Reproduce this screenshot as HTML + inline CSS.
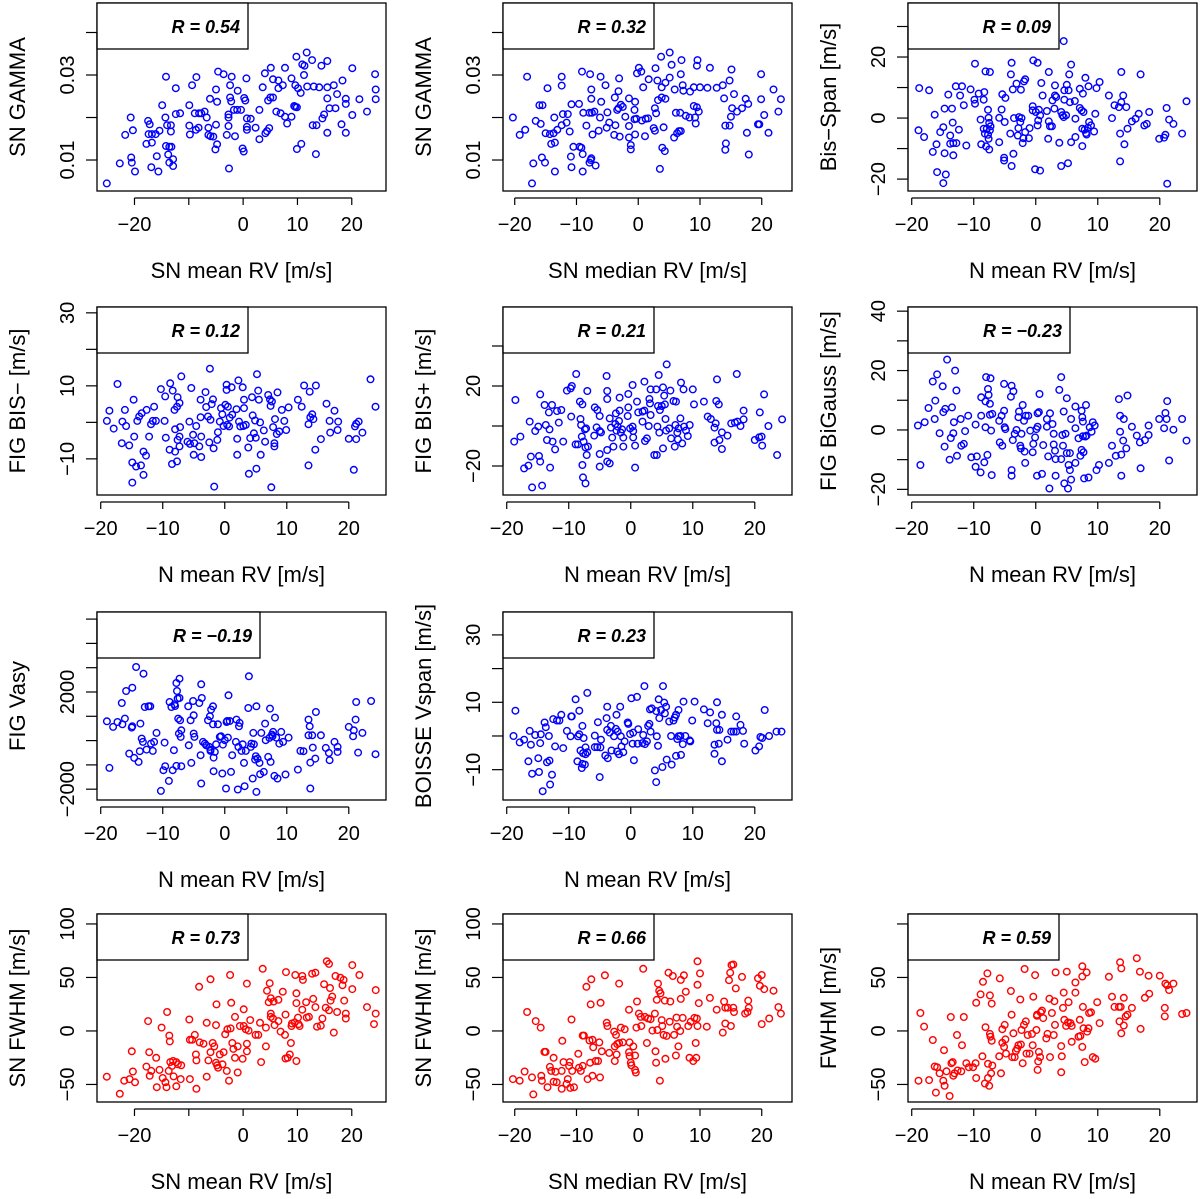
<!DOCTYPE html>
<html><head><meta charset="utf-8"><style>
html,body{margin:0;padding:0;background:#fff;}
svg{display:block;font-family:"Liberation Sans",Arial,sans-serif;}
</style></head><body>
<svg id="fig" width="1200" height="1199" viewBox="0 0 1200 1199" xmlns="http://www.w3.org/2000/svg"></svg>
<script>
// ---------- data ----------
const gammaMeanPts = [[-25.1,0.0045],[-22.7,0.0092],[-20.6,0.0106],[-20.5,0.0094],[-19.9,0.0073],[-21.7,0.0159],[-20.3,0.017],[-20.7,0.020],[-17.8,0.0138],[-17.5,0.0192],[-17.2,0.0184],[-17.4,0.0161],[-16.8,0.0141],[-16.8,0.0161],[-16.1,0.0161],[-15.4,0.0169],[-15.9,0.0109],[-16.9,0.0083],[-15.6,0.0073],[-14.9,0.0229],[-14.3,0.0200],[-14.0,0.0182],[-13.3,0.0182],[-13.3,0.0167],[-14.2,0.0133],[-13.6,0.0131],[-13.2,0.0131],[-13.8,0.0113],[-12.9,0.0102],[-13.6,0.0094],[-12.9,0.0086],[-14.2,0.0296],[-12.4,0.0269],[-12.4,0.0208],[-11.6,0.021],[-9.9,0.0229],[-9.9,0.0181],[-9.8,0.0160],[-8.9,0.0210],[-8.7,0.0171],[-8.2,0.0176],[-8.1,0.021],[-7.7,0.021],[-7.1,0.0214],[-6.7,0.020],[-6.4,0.0176],[-6.4,0.0159],[-6.0,0.0156],[-5.5,0.0155],[-4.8,0.0137],[-5.1,0.0125],[-5.0,0.0183],[-6.1,0.0244],[-4.8,0.0237],[-9.4,0.0276],[-8.6,0.0295],[-5.0,0.0266],[-4.6,0.0308],[-3.6,0.0302],[-2.1,0.0296],[-2.4,0.0276],[-1.0,0.0263],[-2.4,0.0247],[-2.2,0.0238],[-1.7,0.0218],[-2.7,0.0207],[-2.7,0.0180],[-3.0,0.0159],[-1.5,0.0156],[-2.7,0.020],[-1.1,0.0218],[-0.4,0.0218],[0.2,0.0246],[0.4,0.024],[0.6,0.0292],[0.7,0.0198],[1.4,0.0197],[0.7,0.0178],[0.7,0.0171],[-0.1,0.0127],[0.1,0.012],[-2.6,0.0080],[2.3,0.0176],[3.0,0.0218],[3.6,0.0271],[3.0,0.0149],[4.1,0.0163],[4.4,0.0168],[4.8,0.0175],[4.6,0.024],[5.0,0.0247],[5.5,0.0247],[5.1,0.0317],[4.0,0.0304],[5.5,0.029],[6.5,0.0287],[7.3,0.0276],[6.5,0.0269],[6.1,0.0214],[6.9,0.021],[7.7,0.0202],[8.1,0.0186],[8.9,0.0202],[7.7,0.0317],[8.9,0.0292],[9.8,0.0343],[9.6,0.0276],[10.1,0.0269],[10.6,0.0258],[9.6,0.0225],[9.9,0.0224],[10.9,0.0325],[11.3,0.0322],[11.2,0.030],[11.7,0.0353],[12.7,0.0335],[11.8,0.0273],[13.0,0.0273],[14.0,0.0271],[14.4,0.0322],[15.5,0.0333],[15.5,0.0271],[15.5,0.0245],[15.9,0.0222],[14.9,0.0207],[14.6,0.0198],[13.5,0.0182],[12.8,0.0182],[15.5,0.0164],[16.7,0.0276],[17.3,0.0255],[17.0,0.0222],[18.3,0.0287],[18.9,0.0244],[18.9,0.0232],[18.1,0.0184],[18.9,0.0164],[20.1,0.0316],[20.1,0.0206],[21.4,0.0243],[22.8,0.0214],[24.3,0.0302],[24.4,0.0266],[24.4,0.0243],[9.9,0.0126],[10.7,0.0138],[13.4,0.0114],[9.4,0.0227]];
const gammaMedianPts = [[-20.3,0.020],[-19.2,0.0159],[-18.3,0.0171],[-18.0,0.0296],[-17.0,0.0092],[-17.2,0.0045],[-16.6,0.0192],[-15.8,0.0185],[-16.0,0.0229],[-15.5,0.0229],[-15.6,0.0106],[-15.1,0.0094],[-14.7,0.0269],[-15.0,0.0163],[-14.3,0.0161],[-14.1,0.0138],[-13.7,0.0163],[-13.5,0.0141],[-13.6,0.020],[-13.5,0.0073],[-13.1,0.0171],[-12.4,0.0182],[-12.4,0.0296],[-12.4,0.0275],[-12.2,0.0208],[-11.6,0.0188],[-11.4,0.0208],[-11.1,0.0167],[-10.8,0.0231],[-10.5,0.0131],[-10.9,0.0108],[-10.8,0.0083],[-9.6,0.0232],[-9.5,0.0131],[-9.2,0.0129],[-9.0,0.0114],[-9.0,0.0073],[-9.1,0.0308],[-8.9,0.0211],[-8.4,0.0181],[-7.9,0.0211],[-7.8,0.0302],[-7.6,0.0266],[-7.6,0.0244],[-7.4,0.016],[-7.5,0.0211],[-7.1,0.0214],[-7.9,0.0094],[-7.6,0.0104],[-7.7,0.010],[-6.9,0.0087],[-6.2,0.020],[-6.4,0.0169],[-6.0,0.0237],[-6.1,0.0296],[-5.3,0.0276],[-5.0,0.0212],[-4.7,0.0188],[-5.1,0.0176],[-3.9,0.0159],[-3.7,0.0182],[-3.8,0.0247],[-3.2,0.0262],[-3.1,0.0292],[-3.2,0.0222],[-3.4,0.0218],[-2.8,0.023],[-2.5,0.0225],[-2.1,0.0202],[-3.0,0.0155],[-1.5,0.0245],[-1.5,0.018],[-1.5,0.0153],[-1.2,0.0135],[-1.2,0.0125],[-0.5,0.0237],[-0.6,0.0218],[-0.6,0.0196],[-0.3,0.0197],[-0.5,0.016],[-0.2,0.0304],[0.1,0.0317],[0.5,0.0308],[0.8,0.0271],[0.6,0.0193],[1.2,0.0197],[1.6,0.0198],[1.1,0.0156],[1.7,0.029],[2.5,0.0175],[2.7,0.0169],[2.7,0.0222],[2.9,0.021],[2.8,0.0316],[3.1,0.0287],[3.2,0.0241],[3.5,0.0079],[3.7,0.0343],[3.8,0.0247],[3.8,0.0271],[4.1,0.0177],[3.9,0.0129],[4.3,0.0121],[4.4,0.0282],[4.4,0.0244],[5.1,0.0294],[5.1,0.0353],[5.4,0.0324],[5.9,0.0266],[6.1,0.0211],[5.8,0.0153],[6.3,0.0163],[6.6,0.0168],[6.9,0.0168],[6.8,0.0211],[7.0,0.0335],[6.9,0.0302],[7.2,0.0276],[7.3,0.0263],[7.7,0.0204],[8.4,0.0261],[8.3,0.020],[9.2,0.020],[9.0,0.0227],[9.5,0.0224],[9.8,0.0214],[9.3,0.0186],[9.0,0.0271],[9.6,0.0335],[9.5,0.0322],[10.0,0.0271],[11.2,0.027],[11.6,0.0317],[12.7,0.027],[13.7,0.0276],[13.9,0.0245],[14.1,0.0181],[14.2,0.0139],[14.1,0.0124],[14.8,0.0287],[14.8,0.0181],[15.0,0.0202],[15.2,0.0222],[15.1,0.0313],[15.5,0.0255],[16.0,0.0214],[16.8,0.0222],[17.4,0.0244],[17.8,0.0232],[17.6,0.0164],[17.9,0.0113],[19.4,0.0184],[19.6,0.0184],[19.9,0.0243],[19.9,0.0302],[20.4,0.0206],[21.1,0.0164],[21.9,0.0266],[22.7,0.0214],[23.1,0.0243]];
const bisSpanPts = [[-18.9,-4.0],[-18.8,9.8],[-18.0,-6.2],[-17.2,9.1],[-16.3,1.1],[-16.6,-11.1],[-16.0,-8.6],[-15.9,-17.7],[-15.4,-4.6],[-14.9,-3.0],[-14.7,3.1],[-14.7,-11.5],[-14.9,-21.3],[-14.5,-18.5],[-14.1,7.7],[-13.8,-5.7],[-13.8,-8.4],[-13.5,3.1],[-13.4,-1.5],[-13.3,-8.2],[-13.3,-12.2],[-12.9,10.4],[-12.8,-8.2],[-12.4,-3.8],[-12.2,7.4],[-11.9,10.4],[-11.6,4.2],[-11.2,-9.0],[-10.5,9.4],[-9.9,6.0],[-9.8,4.7],[-9.8,17.8],[-9.2,8.0],[-8.8,-8.6],[-8.9,-0.5],[-8.4,6.0],[-8.3,8.5],[-8.4,-3.5],[-8.2,-5.1],[-8.1,15.3],[-8.0,-9.3],[-7.9,-3.5],[-7.7,-5.5],[-7.7,2.7],[-7.6,0.1],[-7.5,-1.6],[-7.4,15.1],[-7.5,-10.3],[-7.6,-6.8],[-7.3,-2.7],[-7.4,-4.0],[-5.9,0.1],[-5.9,-7.9],[-5.5,2.8],[-5.4,7.8],[-5.1,-13.0],[-5.1,-13.9],[-4.9,6.6],[-5.0,-1.3],[-4.1,-5.1],[-3.9,-15.7],[-4.0,14.3],[-3.9,18.1],[-3.6,-11.7],[-3.5,0],[-3.7,9.4],[-3.1,11.3],[-2.9,-5.7],[-2.8,-3.3],[-2.7,0.3],[-2.5,-1.3],[-2.4,9.3],[-2.3,0],[-2.1,-8.2],[-2.0,-6.6],[-1.9,12.0],[-1.7,12.7],[-1.7,-4.6],[-1.1,-6.6],[-1.0,-3.3],[-0.5,2.5],[-0.5,3.9],[-0.4,18.9],[-0.1,-16.8],[0,2.0],[0.3,18.1],[0.3,-2.4],[0.4,-0.8],[0.5,2.7],[0.7,-17.2],[0.7,0.9],[0.9,11.5],[1.1,7.4],[1.8,2.3],[2.0,-6.8],[2.1,15.1],[2.1,-1.1],[2.3,-2.7],[2.6,-2.7],[2.7,5.8],[3.0,3.1],[3.1,7.4],[3.1,10.7],[3.3,6.9],[3.8,-8.1],[4.1,-15.7],[4.1,2.0],[4.3,0.9],[4.5,0.3],[4.5,25.2],[4.6,9.1],[4.6,6.0],[4.9,0.9],[5.0,10.9],[5.2,-14.8],[5.4,14.3],[5.5,5.2],[5.3,9.1],[5.7,-7.9],[5.7,17.5],[6.3,5.6],[6.4,-6.2],[6.4,-0.2],[7.1,9.6],[7.1,3.3],[7.4,2.5],[7.5,-9.2],[7.6,8.0],[7.5,-3.5],[7.7,2.0],[8.0,13.2],[7.9,-3.8],[8.1,-4.9],[8.2,-5.4],[8.4,-3.2],[8.5,10.4],[8.6,-1.3],[8.9,-2.4],[9.4,-4.4],[9.6,1.4],[9.8,9.8],[10.3,11.8],[11.8,7.4],[12.3,0],[12.7,4.2],[13.4,3.6],[13.6,-14.2],[13.6,-5.1],[13.8,15.1],[13.8,5.2],[14.1,7.4],[14.3,-8.6],[14.6,3.6],[14.8,-3.5],[15.5,-1.1],[16.1,-0.2],[16.6,1.4],[16.9,14.3],[17.5,-2.4],[17.9,-1.9],[18.3,2.0],[19.9,-6.8],[20.7,-6.4],[20.9,-5.5],[21.1,3.3],[21.2,-21.5],[21.5,-0.5],[22.2,-1.9],[23.6,-5.1],[24.3,5.5]];
const bisMinusPts = [[-19.0,0.4],[-18.6,3.2],[-17.9,-1.7],[-17.3,10.5],[-16.5,0.2],[-16.1,3.4],[-15.9,-1.0],[-16.6,-5.7],[-15.4,-6.3],[-14.9,-11.0],[-14.7,6.2],[-14.6,-3.9],[-14.3,-12.1],[-13.5,-11.8],[-14.9,-16.5],[-13.1,-14.4],[-14.1,0.4],[-13.8,1.6],[-13.4,2.5],[-13.1,-8.0],[-12.7,-9.1],[-12.6,3.4],[-12.2,-3.9],[-11.9,-0.5],[-11.6,0.4],[-11.4,4.3],[-11.1,0.4],[-9.7,0.4],[-10.3,9.1],[-9.6,7.1],[-9.5,-4.2],[-8.9,-7.5],[-8.8,10.7],[-8.5,-11.4],[-8.4,8.7],[-8.1,3.4],[-8.0,-1.9],[-8.0,-8.0],[-7.7,4.3],[-7.6,6.9],[-7.7,-10.7],[-7.6,-4.8],[-7.3,5.3],[-7.2,-1.3],[-7.3,-6.6],[-7.0,12.6],[-7.3,-3.9],[-5.7,0.2],[-6.0,-5.3],[-5.6,-5.9],[-5.4,9.4],[-5.1,-3.4],[-5.0,-8.9],[-4.9,-5.7],[-4.6,-1.0],[-4.1,-6.6],[-3.9,6.2],[-3.8,-3.9],[-3.9,1.4],[-3.8,-9.5],[-3.1,8.3],[-3.0,4.2],[-2.7,1.6],[-2.5,-5.5],[-2.4,14.7],[-2.3,0.7],[-2.1,5.0],[-1.9,6.3],[-1.8,-7.1],[-1.7,-17.6],[-1.2,-4.8],[-1.1,-2.7],[-0.8,0.2],[-0.6,3.9],[-0.4,2.2],[-0.2,-1.0],[0.1,4.8],[0.3,10.3],[0.3,8.9],[0.4,-0.7],[0.5,4.3],[0.7,-1.1],[1.1,9.6],[0.8,1.3],[1.2,2.1],[1.9,3.6],[2.0,-8.9],[2.0,-4.5],[2.2,11.5],[2.3,0.2],[2.5,-1.1],[2.9,9.6],[3.0,-1.0],[3.1,3.9],[3.1,6.2],[3.4,-0.7],[3.8,-6.9],[3.9,-14.1],[4.1,-4.3],[4.4,6.9],[4.5,1.9],[4.7,-3.0],[4.9,0.5],[5.0,-4.2],[5.1,-12.7],[5.2,13.2],[5.4,8.7],[5.5,6.2],[5.7,0],[5.8,-8.9],[6.3,-2.2],[6.5,-5.3],[7.0,7.5],[7.3,6.3],[7.4,4.5],[7.6,5.7],[7.5,-17.8],[7.8,-1.3],[8.0,-5.7],[8.0,-6.6],[8.1,0.9],[8.4,-3.2],[8.5,8.2],[8.8,-2.5],[9.2,3.4],[9.6,0.4],[9.9,-2.1],[10.3,4.1],[11.8,6.2],[12.4,4.3],[12.8,10.1],[13.5,-11.8],[13.7,8.4],[13.5,-0.5],[13.8,1.4],[14.1,2.2],[14.3,0.9],[14.7,10.1],[14.6,-7.5],[15.5,-4.6],[16.4,5.1],[17.0,-2.8],[16.9,0.4],[17.7,3.2],[18.2,-2.1],[18.3,0.2],[20.0,-4.5],[20.8,-13.0],[21.0,-1.1],[21.2,-0.4],[21.6,0.2],[21.2,-4.6],[22.2,-2.8],[23.5,11.8],[24.3,4.3]];
const bisPlusPts = [[-18.8,-7.8],[-18.6,13.0],[-17.8,-5.3],[-17.2,-21.2],[-16.3,2.2],[-16.5,-19.8],[-16.1,-15.3],[-15.9,-30.7],[-15.4,-2.5],[-14.9,-0.3],[-14.8,-15.0],[-14.6,15.8],[-14.6,-17.8],[-14.3,-29.8],[-13.9,10.5],[-13.7,0.5],[-13.5,-7.0],[-13.2,6.8],[-13.1,-1.7],[-13.0,-20.8],[-12.7,10.5],[-12.6,-7.8],[-12.2,-11.7],[-11.9,7.5],[-11.6,1.7],[-11.2,8.0],[-10.9,-7.8],[-10.3,17.7],[-9.7,18.8],[-9.5,20.0],[-9.6,4.7],[-8.8,26.0],[-8.9,-9.2],[-8.5,-9.2],[-8.2,12.2],[-8.1,3.5],[-8.0,0.5],[-7.9,-5.3],[-7.8,10.8],[-7.8,-19.5],[-7.7,-25.7],[-7.6,-7.8],[-7.4,-1.7],[-7.3,-28.7],[-7.2,-1.2],[-7.3,-10.7],[-7.1,-14.5],[-7.0,17.5],[-6.9,-10.3],[-5.9,-4.8],[-5.8,9.3],[-5.4,8.0],[-5.5,-0.7],[-5.0,5.0],[-5.0,-2.5],[-5.0,-14.0],[-5.0,-20.3],[-4.8,-3.2],[-3.9,25.0],[-3.8,17.5],[-3.8,13.5],[-3.8,-12.0],[-3.8,-17.8],[-3.4,-18.7],[-3.4,3.8],[-3.2,-0.8],[-3.0,-5.8],[-2.8,-10.3],[-2.5,1.0],[-2.4,6.3],[-2.3,-2.3],[-2.1,-0.3],[-1.8,14.2],[-1.9,2.5],[-1.8,7.7],[-1.6,-3.3],[-1.4,-1.7],[-1.2,-10.3],[-1.2,-5.8],[-0.5,5.0],[-0.4,9.3],[-0.4,16.0],[-0.1,-1.2],[0.3,-0.3],[0.4,-2.5],[0.3,20.5],[0.4,-5.7],[0.7,-9.8],[0.7,-20.8],[1.0,12.2],[1.2,6.8],[1.9,7.2],[1.9,2.2],[2.2,22.2],[2.3,-7.5],[2.6,-6.2],[2.2,7.7],[2.9,0],[3.0,13.5],[3.1,11.3],[3.2,18.3],[3.2,5.5],[3.8,-14.5],[4.1,18.3],[4.2,-14.5],[4.3,-0.3],[4.4,10.0],[4.5,25.5],[4.6,-3.3],[4.7,8.0],[5.0,10.0],[5.2,-11.2],[5.2,19.3],[5.4,15.2],[5.5,10.8],[5.6,3.5],[5.7,-2.3],[5.8,30.8],[6.2,-1.2],[6.4,17.7],[6.5,-6.2],[6.9,12.5],[7.1,-10.3],[7.2,0.5],[7.3,12.2],[7.5,-3.3],[7.6,-6.7],[7.7,-1.2],[8.0,3.8],[8.1,21.7],[8.3,-8.7],[8.5,18.3],[8.6,-0.3],[8.9,-2.3],[9.2,-5.0],[9.5,0.5],[10.0,18.3],[10.2,10.8],[11.8,12.2],[12.4,4.7],[12.9,3.5],[13.5,-0.8],[13.5,-8.3],[13.7,1.3],[13.8,12.5],[13.9,23.3],[14.2,10.8],[14.3,-7.0],[14.7,-11.5],[14.7,-3.2],[15.6,-4.8],[16.2,1.3],[16.8,1.7],[17.1,26.0],[17.2,2.2],[17.7,0],[18.2,7.7],[18.2,3.3],[20.0,-7.0],[20.7,-5.7],[20.8,6.8],[21.1,-5.3],[21.2,-9.8],[21.5,15.8],[22.2,0],[23.6,-14.5],[24.4,3.3]];
const biGaussPts = [[-19.0,1.5],[-18.6,-11.8],[-17.9,2.6],[-17.3,7.4],[-16.6,16.3],[-16.3,3.7],[-16.2,9.9],[-15.9,18.7],[-15.5,-1.1],[-15.0,14.7],[-14.7,-5.6],[-14.9,6.0],[-14.6,7.1],[-14.3,23.7],[-13.9,-10.0],[-13.7,-2.7],[-13.5,7.6],[-13.3,-1.1],[-13.2,2.6],[-13.0,20.0],[-12.8,13.3],[-12.7,-8.7],[-12.1,3.7],[-12.0,-5.3],[-11.6,-4.7],[-11.4,-0.4],[-10.9,4.8],[-10.4,-9.2],[-9.7,1.8],[-9.7,-12.4],[-9.5,-8.9],[-8.9,-14.3],[-8.8,11.0],[-8.8,4.8],[-8.3,-10.9],[-8.1,0.9],[-8.1,9.6],[-8.0,17.8],[-7.8,-8.4],[-7.7,13.8],[-7.6,11.8],[-7.4,8.8],[-7.4,5.1],[-7.3,17.4],[-7.2,-0.2],[-7.1,-15.2],[-7.0,5.4],[-5.9,3.1],[-5.8,-4.2],[-5.5,4.8],[-5.4,-5.3],[-5.1,15.5],[-5.1,6.5],[-5.0,0.9],[-4.9,0.3],[-3.9,14.9],[-3.9,-13.5],[-3.9,-15.4],[-3.6,13.0],[-4.0,11.2],[-3.7,-3.4],[-3.4,-1.3],[-3.1,0],[-2.8,4.3],[-2.7,6.2],[-2.5,-5.3],[-2.4,-6.2],[-2.3,-1.3],[-2.1,8.4],[-1.9,3.1],[-1.8,-7.3],[-1.7,-11.1],[-1.6,4.8],[-1.2,4.8],[-0.9,-0.2],[-0.5,-7.5],[-0.4,-4.7],[-0.1,-2.5],[0.1,0.3],[0.2,-15.4],[0.3,1.1],[0.3,5.6],[0.6,12.1],[0.5,6.0],[1.0,-14.8],[1.2,-5.1],[1.8,3.7],[1.8,1.1],[2.0,-8.9],[2.2,-19.7],[2.3,5.6],[2.7,2.0],[2.9,-1.3],[2.9,-4.9],[3.1,-7.0],[3.2,-15.4],[3.2,-9.8],[3.8,13.5],[4.1,17.8],[4.1,-9.8],[4.3,-1.7],[4.4,-5.3],[4.5,6.2],[4.8,-1.3],[4.6,-18.0],[5.0,10.7],[5.0,-7.8],[5.3,-11.8],[5.2,-19.7],[5.5,-7.8],[5.5,-13.5],[5.7,3.7],[5.7,-16.7],[6.4,7.9],[6.4,0.6],[6.4,-11.1],[6.9,-2.8],[7.2,-8.7],[7.4,6.5],[7.4,-6.7],[7.5,4.3],[7.6,2.8],[7.6,-2.1],[7.7,-7.5],[8.0,-2.2],[8.1,8.4],[8.2,-1.9],[7.8,-16.3],[8.5,-16.0],[8.7,0.9],[9.0,-0.6],[9.2,2.6],[9.5,1.5],[9.8,-13.5],[10.2,-11.8],[11.8,-11.1],[12.3,-5.3],[12.9,-8.7],[13.4,10.4],[13.6,4.8],[13.6,-0.6],[13.8,-15.4],[13.8,-8.3],[14.1,-3.6],[14.2,3.7],[14.6,-6.2],[14.8,11.6],[15.5,1.1],[16.3,-1.9],[16.8,-4.2],[16.9,-12.9],[17.6,-3.4],[18.2,1.5],[18.2,-1.7],[19.9,3.7],[20.7,0.6],[20.9,5.7],[21.1,3.7],[21.2,9.7],[21.5,-10.3],[22.2,0.1],[23.6,3.7],[24.3,-3.6]];
const vasyPts = [[-19.0,795],[-18.6,-1123],[-18.0,562],[-17.3,767],[-16.5,671],[-16.6,1548],[-16.1,904],[-15.9,2041],[-15.4,-534],[-15.0,534],[-14.9,589],[-14.9,2178],[-14.6,-712],[-14.3,3028],[-13.9,-877],[-13.7,-438],[-13.6,699],[-13.4,82],[-13.2,-55],[-13.1,2754],[-12.9,1384],[-12.6,-370],[-12.3,1411],[-12.0,1411],[-11.9,-123],[-11.6,-425],[-11.4,-55],[-11.0,315],[-10.3,-2069],[-9.9,-1219],[-9.7,-82],[-9.6,-1055],[-9.0,-1658],[-8.9,1589],[-8.6,1384],[-8.4,-1219],[-8.2,-397],[-8.1,1493],[-8.0,1425],[-7.8,2370],[-7.8,-1041],[-7.7,2041],[-7.6,1726],[-7.5,904],[-7.4,288],[-7.3,1754],[-7.3,2548],[-7.2,836],[-7.1,151],[-7.0,425],[-7.0,-1055],[-5.9,1411],[-5.8,-192],[-5.5,836],[-5.4,-918],[-5.1,1630],[-5.0,1041],[-5.0,288],[-4.9,151],[-4.1,1548],[-3.9,-603],[-3.8,2315],[-3.8,-1767],[-3.7,1754],[-3.5,-55],[-3.2,-123],[-3.0,-192],[-2.7,836],[-2.5,-260],[-2.4,1000],[-2.3,-370],[-2.3,-425],[-2.2,1274],[-1.9,1411],[-1.9,671],[-1.8,-699],[-1.8,-1260],[-1.6,-466],[-1.4,-151],[-1.1,671],[-0.8,151],[-0.6,178],[-0.4,-1356],[-0.3,-164],[0,14],[0.2,-1973],[0.3,767],[0.4,808],[0.5,123],[0.6,1863],[0.8,808],[1.0,-1288],[1.2,-603],[1.8,-55],[1.9,863],[2.1,-2014],[2.2,-260],[2.3,589],[2.4,726],[2.7,-425],[2.9,-151],[3.1,-918],[3.2,-1877],[3.4,-425],[3.8,1342],[3.9,2644],[4.2,-260],[4.3,-123],[4.5,-1562],[4.6,315],[4.7,-151],[4.9,-781],[5.0,-644],[5.1,1411],[5.1,-2110],[5.3,-740],[5.6,-918],[5.7,-1384],[5.9,315],[6.3,-1288],[6.5,699],[6.6,14],[7.0,-671],[7.2,110],[7.3,1315],[7.4,-877],[7.6,247],[7.7,178],[7.8,356],[8.0,-1452],[8.1,945],[8.3,123],[8.5,-1562],[8.8,-123],[9.1,356],[9.4,-55],[9.8,-1397],[10.3,123],[11.8,-1192],[12.2,-425],[12.7,-438],[13.5,219],[13.5,863],[13.7,589],[13.8,-1973],[13.8,-904],[14.1,219],[14.2,-288],[14.6,-740],[14.7,1178],[15.5,219],[16.3,-301],[16.8,-507],[16.9,-808],[17.7,-55],[18.2,-260],[18.2,-466],[20.0,562],[20.7,178],[20.8,425],[21.1,863],[21.2,1589],[21.5,-493],[22.2,315],[23.6,1630],[24.3,-562]];
const vspanPts = [[-18.9,0],[-18.6,7.5],[-17.9,-1.9],[-17.2,-1.1],[-16.5,-7.5],[-16.3,1.5],[-16.1,-2.6],[-15.9,-11.2],[-15.4,0.3],[-14.9,-6.6],[-14.8,-10.7],[-14.6,-2.1],[-14.5,0.5],[-14.2,-16.4],[-13.9,4.0],[-13.7,2.6],[-13.5,-7.8],[-13.2,0],[-13.1,-7.3],[-13.0,-14.4],[-12.7,-11.5],[-12.5,5.0],[-12.2,-3.1],[-11.9,4.6],[-11.5,4.6],[-11.2,6.3],[-10.9,-3.6],[-10.3,1.5],[-9.7,-0.1],[-9.6,5.8],[-9.5,5.8],[-8.9,10.9],[-8.6,-7.5],[-8.5,-0.1],[-8.3,0.5],[-8.3,7.5],[-8.1,-4.3],[-7.9,-9.5],[-7.8,3.0],[-7.8,-8.3],[-7.7,-5.1],[-7.6,-0.6],[-7.4,-8.5],[-7.3,-5.4],[-7.3,-3.4],[-7.0,12.8],[-7.0,-4.8],[-5.8,0.1],[-5.8,-3.3],[-5.4,-3.3],[-5.3,4.1],[-5.0,-12.2],[-4.9,-3.4],[-4.8,-1.1],[-4.1,-5.8],[-3.9,5.3],[-3.8,8.7],[-3.8,1.8],[-3.7,-6.6],[-3.4,1.0],[-3.2,3.0],[-3.1,-4.3],[-2.7,-0.1],[-2.4,2.1],[-2.3,6.3],[-2.2,-4.6],[-2.1,1.3],[-1.9,-5.4],[-1.7,8.7],[-1.6,-0.1],[-1.5,-3.1],[-1.2,-4.8],[-1.0,-1.6],[-0.5,4.0],[-0.4,3.6],[-0.1,0.6],[0.1,11.2],[0.3,-2.3],[0.4,1.0],[0.5,-7.2],[1.0,11.6],[1.1,-2.3],[1.2,2.0],[1.9,-2.1],[2.0,0.3],[2.2,14.8],[2.3,-2.4],[2.6,-1.6],[2.8,3.0],[3.0,3.6],[3.1,7.9],[3.4,8.2],[3.2,1.3],[3.9,-10.2],[4.1,7.4],[4.1,-13.7],[4.2,-0.1],[4.4,-2.9],[4.5,10.9],[4.6,5.3],[4.9,7.7],[5.1,-9.2],[5.2,14.8],[5.4,9.9],[5.5,6.7],[5.7,8.7],[5.8,-7.0],[6.2,4.3],[6.5,0],[6.6,-8.5],[6.9,4.6],[7.1,5.5],[7.3,6.3],[7.3,-5.9],[7.5,-0.9],[7.7,-0.1],[7.7,7.7],[8.0,0],[8.1,-5.6],[8.4,-2.4],[8.5,10.2],[8.8,0],[9.5,-1.3],[9.6,-1.6],[9.9,4.6],[10.3,10.2],[11.8,7.9],[12.4,3.8],[12.8,7.0],[13.5,-2.6],[13.5,-5.3],[13.8,3.8],[13.9,10.0],[13.9,1.8],[14.3,1.8],[14.2,-2.3],[14.7,6.3],[14.7,-7.5],[15.6,-1.1],[16.2,1.3],[16.6,1.3],[17.0,5.8],[17.0,1.3],[17.7,3.3],[18.1,1.5],[18.3,-2.3],[20.1,-4.3],[20.7,-3.1],[20.9,-0.3],[21.2,-0.6],[21.6,7.7],[22.3,0],[23.5,1.3],[24.3,1.3]];
const fwhmMeanPts = [[-25.1,-42.8],[-22.7,-58.7],[-21.9,-46.5],[-20.9,-45.0],[-20.5,-19.0],[-20.3,-37.9],[-19.9,-48.0],[-17.5,9.2],[-17.3,-19.9],[-17.8,-33.3],[-17.2,-41.9],[-16.9,-37.3],[-16.0,-25.1],[-15.9,-52.6],[-15.4,-36.4],[-15.0,3.1],[-14.8,-44.0],[-14.3,-48.0],[-14.1,-52.6],[-14.0,17.7],[-13.6,-4.3],[-13.5,-9.8],[-13.7,-37.3],[-13.4,-29.1],[-13.1,-32.7],[-12.9,-28.1],[-12.8,-42.5],[-12.3,-29.1],[-12.3,-51.7],[-12.0,-31.2],[-11.5,-45.0],[-11.4,-32.1],[-9.9,10.7],[-9.8,-45.0],[-9.8,-8.3],[-9.4,-8.3],[-8.9,-3.7],[-8.7,-22.0],[-8.6,-27.5],[-8.6,-54.1],[-8.1,41.3],[-8.0,-10.7],[-7.3,-11.9],[-6.7,-42.8],[-6.7,7.6],[-6.4,-27.5],[-6.0,-19.9],[-6.0,48.3],[-5.6,-11.3],[-5.3,-14.4],[-5.0,-29.7],[-5.0,5.5],[-4.9,24.8],[-4.8,-32.1],[-4.6,-34.3],[-4.3,-22.0],[-3.8,-31.2],[-3.6,-19.9],[-3.3,-3.1],[-3.0,-37.3],[-2.9,1.5],[-2.6,-46.5],[-2.4,52.3],[-2.2,26.3],[-2.3,2.4],[-2.0,-11.3],[-1.8,-16.8],[-1.5,13.1],[-1.5,-25.1],[-1.0,-38.8],[-1.0,-14.4],[-0.6,4.6],[-0.1,-26.0],[0.1,20.2],[0.1,4.6],[0.5,1.5],[0.7,44.3],[0.7,-11.9],[0.7,-19.0],[1.0,0.3],[1.3,10.1],[2.3,-3.7],[2.8,-3.7],[3.1,7.6],[3.3,-29.1],[3.6,58.1],[4.2,-14.4],[4.2,3.1],[4.4,37.6],[4.7,26.9],[4.9,44.6],[5.1,30.6],[5.1,16.2],[5.1,13.1],[5.5,11.6],[5.6,27.5],[5.8,5.5],[6.5,29.1],[6.5,9.2],[6.9,-0.6],[7.3,36.7],[7.7,-3.7],[7.8,15.3],[7.8,-25.7],[7.9,55.0],[8.2,-25.1],[8.6,-22.0],[8.8,-11.3],[8.9,4.6],[9.0,7.0],[9.5,8.0],[9.6,52.3],[9.8,35.2],[9.8,26.0],[9.8,-28.1],[10.1,12.5],[10.2,6.4],[10.4,4.6],[10.9,51.4],[10.9,19.9],[11.0,47.7],[11.6,26.9],[11.7,12.5],[12.1,13.1],[12.7,53.5],[12.9,30.0],[13.3,54.4],[13.3,22.3],[13.6,4.0],[14.3,4.9],[14.6,11.6],[14.9,43.7],[15.2,21.7],[15.4,65.1],[15.8,62.7],[15.8,19.3],[16.0,40.1],[16.1,28.4],[16.4,32.1],[16.7,-1.5],[17.0,51.4],[17.3,17.7],[17.9,49.8],[18.3,42.8],[18.5,47.7],[18.6,28.4],[18.9,16.2],[18.9,11.6],[20.1,61.5],[20.1,39.1],[21.4,52.3],[22.8,22.3],[24.4,38.2],[24.4,16.2],[24.1,6.4]];
const fwhmMedianPts = [[-20.3,-45.0],[-19.2,-46.5],[-18.4,-37.9],[-18.0,17.7],[-17.2,-43.4],[-17.0,-59.3],[-16.6,9.2],[-15.8,3.1],[-15.7,-41.9],[-15.6,-46.5],[-15.2,-19.6],[-15.0,-19.6],[-14.7,-52.6],[-14.3,-33.6],[-14.1,-37.3],[-13.7,-25.1],[-13.7,-47.4],[-13.4,-38.2],[-13.2,-48.0],[-12.4,-37.3],[-12.4,-54.1],[-12.3,-9.2],[-12.1,-29.1],[-11.6,-49.5],[-11.4,-45.0],[-11.2,-32.7],[-11.1,-29.1],[-11.0,-53.2],[-10.8,10.7],[-10.7,-37.3],[-10.4,-52.6],[-9.7,-21.4],[-9.6,-34.3],[-9.3,-37.3],[-9.0,-32.7],[-9.0,-4.3],[-8.8,-4.3],[-8.4,41.3],[-8.2,-45.0],[-7.9,-8.9],[-7.8,-29.7],[-7.7,24.8],[-7.6,48.3],[-7.4,-41.9],[-7.4,-8.3],[-7.3,-15.3],[-6.9,-28.1],[-6.5,-28.1],[-6.3,-10.7],[-6.2,-43.4],[-6.1,26.3],[-5.9,-19.0],[-5.4,52.0],[-5.1,7.6],[-5.0,4.6],[-4.7,-20.5],[-3.9,-0.6],[-3.8,-14.4],[-3.8,-28.1],[-3.6,-3.7],[-3.5,-22.0],[-3.4,-12.2],[-3.1,44.3],[-3.1,-11.3],[-2.8,3.1],[-2.5,-10.7],[-2.2,1.5],[-1.5,19.9],[-1.4,-10.7],[-1.5,-19.9],[-1.4,-23.5],[-1.2,-29.7],[-1.1,-32.1],[-0.8,-14.4],[-0.5,-22.9],[-0.5,-36.4],[-0.4,-38.8],[-0.3,3.1],[-0.2,27.5],[0.1,16.2],[0.4,13.1],[0.5,4.6],[0.8,58.1],[1.1,13.1],[1.4,-11.3],[1.6,11.6],[2.0,11.0],[2.3,0.3],[2.7,16.2],[2.8,-19.0],[2.9,-29.7],[3.0,29.1],[3.1,0.9],[3.2,44.3],[3.4,37.6],[3.5,-46.5],[3.6,35.2],[3.8,10.1],[3.9,4.6],[4.1,-3.7],[4.3,28.4],[4.4,-26.0],[4.6,-4.6],[4.9,54.4],[5.1,8.6],[5.2,27.5],[5.6,51.4],[5.8,-3.7],[6.1,-22.9],[6.2,12.5],[6.3,4.0],[6.5,-14.4],[6.8,0],[6.9,47.7],[6.9,30.0],[7.2,12.2],[7.4,52.0],[7.7,36.7],[8.1,4.6],[8.3,-25.1],[8.5,8.6],[8.9,-28.1],[9.1,12.2],[9.3,-11.3],[9.4,-25.1],[9.5,11.6],[9.6,4.6],[9.6,65.1],[9.6,43.1],[9.8,26.0],[10.0,53.8],[11.1,4.0],[11.6,30.9],[12.7,19.9],[13.7,-1.5],[13.9,27.5],[14.1,7.0],[14.1,21.7],[14.5,21.7],[14.7,47.4],[14.9,54.4],[15.0,4.6],[15.1,61.5],[15.4,62.1],[15.4,21.7],[15.5,17.7],[15.8,39.8],[16.8,50.5],[17.3,16.2],[17.7,17.7],[17.8,28.4],[17.9,21.7],[19.4,49.2],[19.7,42.2],[20.0,52.3],[20.0,6.4],[20.4,39.1],[21.2,11.6],[21.9,37.6],[22.7,22.3],[23.1,16.2]];
const fwhmNPts = [[-18.9,-46.5],[-18.6,16.8],[-18.0,4.1],[-17.2,-45.9],[-16.6,-8.5],[-16.3,-33.2],[-15.9,-33.9],[-16.1,-57.6],[-15.5,-39.6],[-14.9,-46.5],[-14.8,-18.0],[-14.7,-51.3],[-14.4,-37.7],[-13.9,-60.8],[-13.7,13.0],[-13.6,-30.1],[-13.4,-29.1],[-13.3,-41.8],[-13.1,-39.6],[-12.7,-3.8],[-12.6,-37.0],[-12.0,-37.7],[-11.9,-13.3],[-11.6,13.0],[-11.2,-30.1],[-10.8,-33.9],[-10.1,-33.9],[-9.7,-30.1],[-9.6,26.3],[-9.6,-44.0],[-8.9,34.2],[-8.6,-23.7],[-8.5,45.9],[-8.2,-49.1],[-8.1,3.5],[-7.8,53.8],[-7.7,-30.7],[-7.7,-44.0],[-7.5,-51.3],[-7.4,33.2],[-7.4,-2.8],[-7.3,-5.4],[-7.2,-39.6],[-7.1,25.6],[-7.1,-9.2],[-7.0,-32.3],[-5.9,-23.7],[-5.8,49.1],[-5.6,-39.6],[-5.4,1.6],[-5.4,-11.1],[-5.1,-14.9],[-5.0,5.7],[-4.9,-7.9],[-4.8,-21.2],[-4.0,37.3],[-3.9,15.2],[-3.8,-24.4],[-3.6,-2.2],[-3.4,-24.4],[-3.2,-18.7],[-3.0,-16.5],[-2.8,-13.3],[-2.5,29.4],[-2.4,-12.7],[-2.3,0.9],[-2.1,-30.1],[-1.9,5.7],[-1.8,57.9],[-1.6,8.9],[-1.5,-21.2],[-1.3,-3.8],[-1.0,-21.2],[-0.6,-2.8],[-0.5,-13.3],[-0.4,32.0],[-0.1,52.2],[0.1,0.9],[0.2,15.2],[0.2,14.2],[0.3,-36.4],[0.4,-28.5],[0.5,-19.6],[0.7,-24.4],[0.8,17.4],[1.0,19.0],[1.2,12.0],[1.7,-7.0],[1.9,-2.8],[2.2,30.1],[2.3,-24.4],[2.6,16.8],[2.9,-3.8],[3.0,27.8],[3.1,5.7],[3.2,54.7],[4.1,-38.6],[4.1,-14.2],[4.2,-23.7],[4.4,21.5],[4.5,35.8],[4.6,10.4],[4.9,4.7],[5.0,55.4],[5.2,7.9],[5.3,26.9],[5.6,7.3],[5.8,4.7],[5.8,-10.1],[6.4,45.3],[6.4,35.8],[6.9,-5.4],[7.1,10.4],[7.2,-4.7],[7.5,50.9],[7.5,60.4],[7.6,22.5],[7.5,-14.9],[7.7,2.5],[7.9,-29.1],[8.2,54.7],[8.3,-0.6],[8.5,2.5],[8.6,16.8],[8.9,17.4],[9.2,-24.4],[9.6,-25.9],[9.9,26.9],[10.3,7.3],[11.8,50.6],[12.3,32.0],[12.7,22.5],[13.4,22.5],[13.5,8.9],[13.6,64.2],[13.7,22.5],[13.8,58.5],[13.8,-2.2],[14.2,31.0],[14.2,5.1],[14.5,13.6],[14.8,15.2],[15.5,21.5],[16.3,68.0],[16.8,55.4],[16.9,1.9],[17.6,31.0],[18.2,51.6],[18.3,34.8],[20.0,51.6],[20.8,21.5],[20.8,13.6],[20.9,44.3],[21.2,42.7],[21.5,38.3],[22.2,44.3],[23.6,15.8],[24.3,16.8]];

// tick values / labels
const xTicks = [-20,-10,0,10,20];
const xLabelsSNmean = ["\u221220","","0","10","20"];
const xLabelsFull = ["\u221220","\u221210","0","10","20"];
const gammaTicks = [0.01,0.02,0.03,0.04];
const gammaLabels = ["0.01","","0.03",""];
const bisSpanTicks = [-20,-10,0,10,20,30];
const bisSpanLabels = ["\u221220","","0","","20",""];
const bisMinusTicks = [-10,0,10,20,30];
const bisMinusLabels = ["\u221210","","10","","30"];
const bisPlusTicks = [-20,0,20,40];
const bisPlusLabels = ["\u221220","","20",""];
const biGaussTicks = [-20,-10,0,10,20,30,40];
const biGaussLabels = ["\u221220","","0","","20","","40"];
const vasyTicks = [-2000,-1000,0,1000,2000,3000,4000,5000];
const vasyLabels = ["\u22122000","","","","2000","","",""];
const vspanTicks = [-10,0,10,20,30];
const vspanLabels = ["\u221210","","10","","30"];
const fwhmTicks = [-50,0,50,100];
const fwhmLabels = ["\u221250","0","50","100"];
const fwhmLabelsN = ["\u221250","0","50",""];

// ---------- layout ----------
const NS = "http://www.w3.org/2000/svg";
const svg = document.getElementById('fig');
const COLS = [97, 503, 908];
const ROWS = [3, 307, 612, 914];
const W = 289, H = 188;
const XDOM = { snmean: [-26.9, 26.3], snmed: [-21.9, 24.9], nmean: [-20.6, 26.0] };

const panels = [
  {name:'sn-gamma-vs-sn-mean', c:0, r:0, pts:gammaMeanPts, xd:XDOM.snmean, yd:[0.00271,0.04694], yt:gammaTicks, yl:gammaLabels, xl:xLabelsSNmean, xt:'SN mean RV [m/s]', ytl:'SN GAMMA', R:'R = 0.54', col:'#0000ff', lw:151},
  {name:'sn-gamma-vs-sn-median', c:1, r:0, pts:gammaMedianPts, xd:XDOM.snmed, yd:[0.00271,0.04694], yt:gammaTicks, yl:gammaLabels, xl:xLabelsFull, xt:'SN median RV [m/s]', ytl:'SN GAMMA', R:'R = 0.32', col:'#0000ff', lw:151},
  {name:'bis-span-vs-n-mean', c:2, r:0, pts:bisSpanPts, xd:XDOM.nmean, yd:[-23.9,37.7], yt:bisSpanTicks, yl:bisSpanLabels, xl:xLabelsFull, xt:'N mean RV [m/s]', ytl:'Bis\u2212Span [m/s]', R:'R = 0.09', col:'#0000ff', lw:151},
  {name:'fig-bis-minus-vs-n-mean', c:0, r:1, pts:bisMinusPts, xd:XDOM.nmean, yd:[-19.9,31.6], yt:bisMinusTicks, yl:bisMinusLabels, xl:xLabelsFull, xt:'N mean RV [m/s]', ytl:'FIG BIS\u2212 [m/s]', R:'R = 0.12', col:'#0000ff', lw:151},
  {name:'fig-bis-plus-vs-n-mean', c:1, r:1, pts:bisPlusPts, xd:XDOM.nmean, yd:[-34.5,59.5], yt:bisPlusTicks, yl:bisPlusLabels, xl:xLabelsFull, xt:'N mean RV [m/s]', ytl:'FIG BIS+ [m/s]', R:'R = 0.21', col:'#0000ff', lw:151},
  {name:'fig-bigauss-vs-n-mean', c:2, r:1, pts:biGaussPts, xd:XDOM.nmean, yd:[-21.9,41.4], yt:biGaussTicks, yl:biGaussLabels, xl:xLabelsFull, xt:'N mean RV [m/s]', ytl:'FIG BiGauss [m/s]', R:'R = \u22120.23', col:'#0000ff', lw:162},
  {name:'fig-vasy-vs-n-mean', c:0, r:2, pts:vasyPts, xd:XDOM.nmean, yd:[-2445,5292], yt:vasyTicks, yl:vasyLabels, xl:xLabelsFull, xt:'N mean RV [m/s]', ytl:'FIG Vasy', R:'R = \u22120.19', col:'#0000ff', lw:163},
  {name:'boisse-vspan-vs-n-mean', c:1, r:2, pts:vspanPts, xd:XDOM.nmean, yd:[-19.0,36.8], yt:vspanTicks, yl:vspanLabels, xl:xLabelsFull, xt:'N mean RV [m/s]', ytl:'BOISSE Vspan [m/s]', R:'R = 0.23', col:'#0000ff', lw:151},
  {name:'sn-fwhm-vs-sn-mean', c:0, r:3, pts:fwhmMeanPts, xd:XDOM.snmean, yd:[-66.4,109.3], yt:fwhmTicks, yl:fwhmLabels, xl:xLabelsSNmean, xt:'SN mean RV [m/s]', ytl:'SN FWHM [m/s]', R:'R = 0.73', col:'#ff0000', lw:151},
  {name:'sn-fwhm-vs-sn-median', c:1, r:3, pts:fwhmMedianPts, xd:XDOM.snmed, yd:[-66.4,109.3], yt:fwhmTicks, yl:fwhmLabels, xl:xLabelsFull, xt:'SN median RV [m/s]', ytl:'SN FWHM [m/s]', R:'R = 0.66', col:'#ff0000', lw:151},
  {name:'fwhm-vs-n-mean', c:2, r:3, pts:fwhmNPts, xd:XDOM.nmean, yd:[-66.4,109.3], yt:fwhmTicks, yl:fwhmLabelsN, xl:xLabelsFull, xt:'N mean RV [m/s]', ytl:'FWHM [m/s]', R:'R = 0.59', col:'#ff0000', lw:151}
];

function mk(tag, attrs, parent) {
  const e = document.createElementNS(NS, tag);
  for (const k in attrs) e.setAttribute(k, attrs[k]);
  parent.appendChild(e);
  return e;
}

panels.forEach(p => {
  const L = COLS[p.c], T = ROWS[p.r], R = L + W, B = T + H;
  const sx = v => L + (v - p.xd[0]) / (p.xd[1] - p.xd[0]) * W;
  const sy = v => B - (v - p.yd[0]) / (p.yd[1] - p.yd[0]) * H;
  const g = mk('g', {}, svg);
  
  

  // points
  const pg = mk('g', {fill:'none', stroke:p.col, 'stroke-width':'1.4'}, g);
  
  
  p.pts.forEach(d => {
    const c = mk('circle', {cx:sx(d[0]).toFixed(1), cy:sy(d[1]).toFixed(1), r:'3.3'}, pg);
    
    
  });

  // frame
  const fr = mk('rect', {x:L, y:T, width:W, height:H, fill:'none', stroke:'#000', 'stroke-width':'1.3'}, g);
  
  

  // legend box
  const lg = mk('g', {}, g);
  
  
  mk('rect', {x:L, y:T, width:p.lw, height:46, fill:'#fff', stroke:'#000', 'stroke-width':'1.3'}, lg);
  const lt = mk('text', {x:L + p.lw - 8, y:T + 30, 'text-anchor':'end', 'font-size':'18', 'font-weight':'bold', 'font-style':'italic'}, lg);
  lt.textContent = p.R;

  // x axis
  const xa = mk('g', {stroke:'#000', 'stroke-width':'1.2'}, g);
  
  
  const ay = B + 7;
  mk('line', {x1:sx(xTicks[0]), x2:sx(xTicks[xTicks.length-1]), y1:ay, y2:ay}, xa);
  xTicks.forEach((v, i) => {
    mk('line', {x1:sx(v), x2:sx(v), y1:ay, y2:ay + 7}, xa);
    if (p.xl[i]) {
      const t = mk('text', {x:sx(v), y:B + 40, 'text-anchor':'middle', 'font-size':'20', stroke:'none', fill:'#000'}, xa);
      t.textContent = p.xl[i];
    }
  });
  const xt = mk('text', {x:L + W/2, y:B + 87, 'text-anchor':'middle', 'font-size':'22'}, g);
  
  
  xt.textContent = p.xt;

  // y axis
  const ya = mk('g', {stroke:'#000', 'stroke-width':'1.2'}, g);
  
  
  mk('line', {x1:L, x2:L, y1:sy(p.yt[0]), y2:sy(p.yt[p.yt.length-1])}, ya);
  p.yt.forEach((v, i) => {
    mk('line', {x1:L - 11, x2:L, y1:sy(v), y2:sy(v)}, ya);
    if (p.yl[i]) {
      const yy = sy(v), xx = L - 23;
      const t = mk('text', {x:xx, y:yy, 'text-anchor':'middle', 'font-size':'20', stroke:'none', fill:'#000', transform:`rotate(-90 ${xx} ${yy})`}, ya);
      t.textContent = p.yl[i];
    }
  });
  const yx = L - 72, yy = T + H/2;
  const yt = mk('text', {x:yx, y:yy, 'text-anchor':'middle', 'font-size':'22', transform:`rotate(-90 ${yx} ${yy})`}, g);
  
  
  yt.textContent = p.ytl;
});
</script>
</body></html>
